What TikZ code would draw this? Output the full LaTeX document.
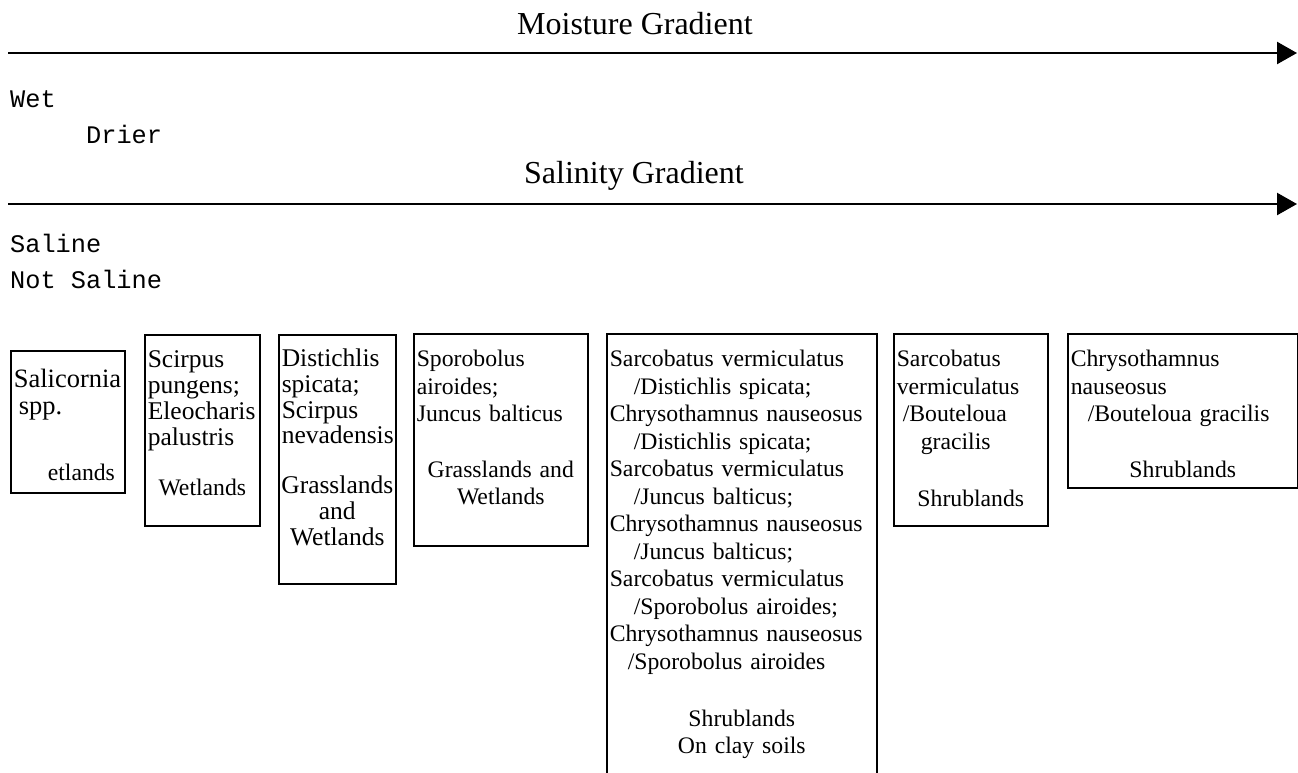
\documentclass[tikz,border=0pt]{standalone}
\usepackage{fontspec}
\setmainfont{Liberation Serif}
\setmonofont{Liberation Mono}
\usepackage{tikz}
\usetikzlibrary{arrows.meta}
\newcommand{\midline}[1]{\makebox[\hsize]{#1}}
\tikzstyle{vbox} = [draw, line width=1.6pt, anchor=north west, inner sep=3pt, align=left, text height=30pt, font=\fontsize{23.7}{27.5}\selectfont]
\tikzstyle{gradline} = [draw, line width=2.4pt, -{Triangle[length=20pt, width=22pt]}]
\tikzstyle{heading} = [anchor=base west, inner sep=0pt, font=\fontsize{32}{36}\selectfont]
\tikzstyle{mono} = [anchor=base west, inner sep=0pt, font=\ttfamily\fontsize{25.3}{30}\selectfont]

\begin{document}
\begin{tikzpicture}[x=1pt, y=-1pt]
        \useasboundingbox (0,0) rectangle (1298,772);
        \clip (0,0) rectangle (1298,772);

        % Gradients
        \node [heading] (moisture) at (517,34) {Moisture Gradient};
        \coordinate (mstart) at (8,53);
        \coordinate (mend) at (1297,53);
        \path [gradline] (mstart) -- (mend);
        \node [mono] (wet) at (10,107) {Wet};
        \node [mono] (drier) at (86,143) {Drier};

        \node [heading] (salinity) at (524,183) {Salinity Gradient};
        \coordinate (sstart) at (8,204);
        \coordinate (send) at (1297,204);
        \path [gradline] (sstart) -- (send);
        \node [mono] (saline) at (10,252) {Saline};
        \node [mono] (notsaline) at (10,288) {Not Saline};

        % Place community boxes
        \node [vbox, text width=108pt, text height=34pt, text depth=102pt, font=\fontsize{26.5}{27}\selectfont] (salicornia) at (10,350)
            {Salicornia\\ \hspace*{5pt}spp.\\[39pt] \hspace*{34pt}{\fontsize{23.7}{27}\selectfont etlands}};

        \node [vbox, text width=109pt, text depth=155pt, font=\fontsize{25.5}{26}\selectfont] (scirpus) at (144,334)
            {Scirpus\\ pungens;\\ Eleocharis\\ palustris\\[24pt] \midline{\fontsize{23.7}{26}\selectfont Wetlands}};

        \node [vbox, text width=111pt, text height=29pt, text depth=214pt, font=\fontsize{25.5}{25.7}\selectfont] (distichlis) at (278,334)
            {Distichlis\\ spicata;\\ Scirpus\\ nevadensis\\[24pt] \midline{Grasslands}\\ \midline{and}\\ \midline{Wetlands}};

        \node [vbox, text width=168pt, text depth=176pt] (sporobolus) at (413,333)
            {Sporobolus\\ airoides;\\ Juncus balticus\\[28pt] \midline{Grasslands and}\\ \midline{Wetlands}};

        \node [vbox, text width=264pt, text depth=424pt] (mixed) at (606,333)
            {Sarcobatus vermiculatus\\
             \hspace*{24pt}/Distichlis spicata;\\
             Chrysothamnus nauseosus\\
             \hspace*{24pt}/Distichlis spicata;\\
             Sarcobatus vermiculatus\\
             \hspace*{24pt}/Juncus balticus;\\
             Chrysothamnus nauseosus\\
             \hspace*{24pt}/Juncus balticus;\\
             Sarcobatus vermiculatus\\
             \hspace*{24pt}/Sporobolus airoides;\\
             Chrysothamnus nauseosus\\
             \hspace*{18pt}/Sporobolus airoides\\[29.5pt]
             \midline{Shrublands}\\
             \midline{On clay soils}};

        \node [vbox, text width=148pt, text depth=156pt] (sarcobatus) at (893,333)
            {Sarcobatus\\ vermiculatus\\ \hspace*{6pt}/Bouteloua\\ \hspace*{24pt}gracilis\\[29.5pt] \midline{Shrublands}};

        \node [vbox, text width=224pt, text depth=118pt] (chrysothamnus) at (1067,333)
            {Chrysothamnus\\ nauseosus\\ \hspace*{17pt}/Bouteloua gracilis\\[28pt] \midline{Shrublands}};
    \end{tikzpicture}
\end{document}
